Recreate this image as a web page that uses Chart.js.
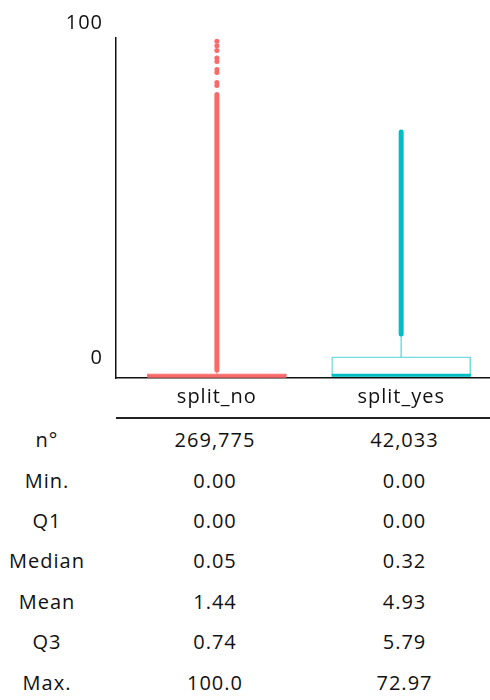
<!DOCTYPE html>
<html><head><meta charset="utf-8">
<script src="https://cdn.jsdelivr.net/npm/chart.js@4.4.1/dist/chart.umd.min.js"></script>
<style>
html,body{margin:0;padding:0;background:#fff;}
#wrap{position:relative;width:490px;height:700px;overflow:hidden;font-family:'Open Sans',sans-serif;}
#chartBox{position:absolute;left:0;top:0;width:490px;height:420px;}
#rule{position:absolute;left:116px;width:374px;top:417px;height:0;border-top:2px solid #222;}
.cell{position:absolute;font-size:20px;letter-spacing:1px;line-height:24px;color:#111;white-space:nowrap;transform:translateX(-50%);}
</style></head><body>
<div id="wrap"><div id="chartBox"><canvas id="c"></canvas></div><div id="rule"></div><div id="table"></div></div>
<script>
// ---- data ----
const categories = ['split_no', 'split_yes'];
const statLabels = ['n°', 'Min.', 'Q1', 'Median', 'Mean', 'Q3', 'Max.'];
const countN  = [269775, 42033];
const minV    = [0.00, 0.00];
const q1V     = [0.00, 0.00];
const medianV = [0.05, 0.32];
const meanV   = [1.44, 4.93];
const q3V     = [0.74, 5.79];
const maxV    = [100.0, 72.97];
const whiskerHi = [1.85, 12.5];
const outlierBandLo = [1.9, 12.6];
const outlierBandHi = [84.1, 72.97];
const splitNoIsolatedOutliers = [86.8, 87.7, 90.7, 91.6, 94.0, 95.0, 97.3, 98.7, 100.0];
const yTicks = [0, 100];

// ---- styles ----
const RED = '#FB6A6A', TEAL = '#00BFC4';
const mainColors = [RED, TEAL];
const lightColors = ['rgba(251,106,106,0.6)', 'rgba(0,191,196,0.55)'];
const boxFill = [RED, '#ffffff'];
const BOX_PX = 139;

const datasets = [];
// isolated outliers
datasets.push({
  type: 'scatter', data: splitNoIsolatedOutliers.map(v => ({x: 1, y: v})),
  pointRadius: 2.5, pointBackgroundColor: RED, pointBorderWidth: 0, clip: false
});
// median lines
datasets.push({
  type: 'scatter', data: categories.map((c, i) => ({x: i + 1, y: medianV[i]})),
  pointStyle: 'line', pointRadius: BOX_PX / 2, pointBorderWidth: 3,
  pointBorderColor: mainColors, clip: false
});
categories.forEach((c, i) => {
  // outlier band (dense outliers overlapping)
  datasets.push({
    type: 'line', data: [{x: i + 1, y: outlierBandLo[i]}, {x: i + 1, y: outlierBandHi[i]}],
    borderColor: mainColors[i], borderWidth: 5, borderCapStyle: 'round', pointRadius: 0, clip: false
  });
  // whiskers
  datasets.push({
    type: 'line', data: [{x: i + 1, y: q3V[i]}, {x: i + 1, y: whiskerHi[i]}],
    borderColor: lightColors[i], borderWidth: 1.5, pointRadius: 0
  });
  datasets.push({
    type: 'line', data: [{x: i + 1, y: minV[i]}, {x: i + 1, y: q1V[i]}],
    borderColor: lightColors[i], borderWidth: 1.5, pointRadius: 0
  });
});
// boxes
datasets.push({
  type: 'bar', data: categories.map((c, i) => ({x: i + 1, y: [q1V[i], q3V[i]]})),
  backgroundColor: boxFill, borderColor: [RED, lightColors[1]], borderWidth: 1.5,
  borderSkipped: false, barThickness: BOX_PX
});

const spacing = {
  id: 'spacing',
  beforeDraw(chart) { chart.ctx.letterSpacing = '1px'; }
};

new Chart(document.getElementById('c'), {
  data: { datasets },
  plugins: [spacing],
  options: {
    responsive: true, maintainAspectRatio: false, animation: false,
    layout: { autoPadding: false, padding: { top: 38, left: 0, right: 0, bottom: 0 } },
    plugins: { legend: { display: false }, tooltip: { enabled: false } },
    scales: {
      x: {
        type: 'linear', min: 0.4526, max: 2.482, offset: false,
        grid: { display: false, drawTicks: false },
        border: { display: true, color: '#111', width: 1.5 },
        afterBuildTicks: s => { s.ticks = categories.map((c, i) => ({value: i + 1})); },
        afterFit: s => { s.height = 42; },
        ticks: {
          callback: v => categories[Math.round(v) - 1],
          font: { family: "'Open Sans', sans-serif", size: 20 }, color: '#111', padding: 7,
          maxRotation: 0, autoSkip: false
        }
      },
      y: {
        type: 'linear', min: -0.5, max: 101,
        grid: { display: false, drawTicks: false },
        border: { display: true, color: '#111', width: 1.5 },
        afterBuildTicks: s => { s.ticks = yTicks.map(v => ({value: v})); },
        afterFit: s => { s.width = 116; },
        ticks: {
          font: { family: "'Open Sans', sans-serif", size: 20 }, color: '#111',
          padding: 13, labelOffset: -18
        }
      }
    }
  }
});

// ---- summary table ----
const rows = [countN, minV, q1V, medianV, meanV, q3V, maxV];
const fmt = (v, r) => r === 0 ? v.toLocaleString('en-US') : (v >= 10 ? v.toPrecision(4) : v.toFixed(2));
const table = document.getElementById('table');
const colX = [47, 215, 404.5];
statLabels.forEach((lab, r) => {
  const top = 447.9 + 40.4 * r - 19.8;
  const texts = [lab, fmt(rows[r][0], r), fmt(rows[r][1], r)];
  texts.forEach((t, k) => {
    const d = document.createElement('div');
    d.className = 'cell';
    d.style.left = colX[k] + 'px';
    d.style.top = top + 'px';
    d.textContent = t;
    table.appendChild(d);
  });
});
</script>
</body></html>
